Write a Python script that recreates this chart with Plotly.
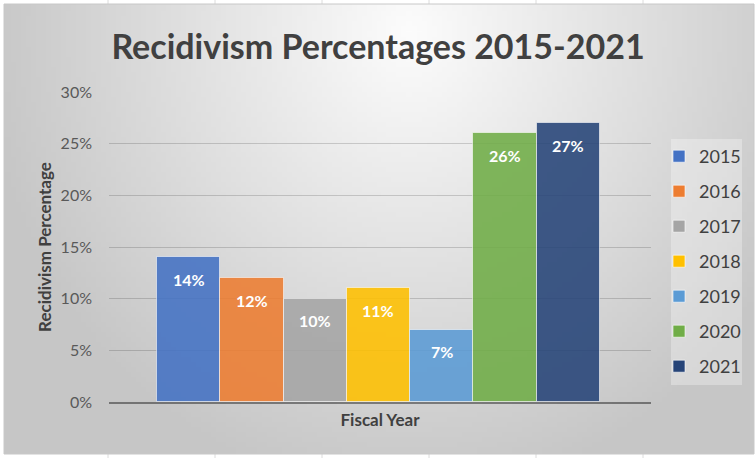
import base64
import struct
import zlib
import plotly.graph_objects as go

# ---- data ----
years = ["2015", "2016", "2017", "2018", "2019", "2020", "2021"]
rates = [0.14, 0.12, 0.10, 0.11, 0.07, 0.26, 0.27]
bar_labels = ["14%", "12%", "10%", "11%", "7%", "26%", "27%"]
colors = ["#4472C4", "#ED7D31", "#A5A5A5", "#FFC000", "#5B9BD5", "#70AD47", "#264478"]
y_ticks = [0, 0.05, 0.10, 0.15, 0.20, 0.25, 0.30]
y_tick_labels = ["0%", "5%", "10%", "15%", "20%", "25%", "30%"]

W, H = 756, 458
FONT = "Lato"


def gradient_png(w, h):
    rows = bytearray()
    for j in range(h):
        rows.append(0)
        for i in range(w):
            x = i / (w - 1) * 750 + 4
            y = j / (h - 1) * 450 + 4
            u = (x - 410) / 430
            v = (y - 30) / 470
            r = min((u * u + v * v) ** 0.5, 1.0)
            g = int(round(252 - 54 * r))
            rows += bytes((g, g, g))
    raw = zlib.compress(bytes(rows), 9)

    def chunk(t, d):
        return struct.pack(">I", len(d)) + t + d + struct.pack(">I", zlib.crc32(t + d) & 0xFFFFFFFF)

    png = (b"\x89PNG\r\n\x1a\n"
           + chunk(b"IHDR", struct.pack(">IIBBBBB", w, h, 8, 2, 0, 0, 0))
           + chunk(b"IDAT", raw)
           + chunk(b"IEND", b""))
    return "data:image/png;base64," + base64.b64encode(png).decode()


fig = go.Figure()
for yr, val, col in zip(years, rates, colors):
    fig.add_trace(go.Bar(
        x=[yr], y=[val], name=yr, legendgroup=yr,
        marker=dict(color=col, opacity=0.88,
                    line=dict(color="rgba(255,255,255,0.6)", width=1)),
        hoverinfo="skip",
    ))

for i, (val, lab) in enumerate(zip(rates, bar_labels)):
    fig.add_annotation(x=i, y=val, xref="x", yref="y", text=lab, showarrow=False,
                       yshift=-22, yanchor="middle",
                       font=dict(family=FONT, size=16, color="white", weight="bold"))

# faint spreadsheet cell borders outside the chart frame
sheet_lines = []
for cx in [108, 215, 322, 429, 536, 643]:
    for (ya, yb) in [(0, 4), (454, 458)]:
        sheet_lines.append(dict(type="line", xref="paper", yref="paper",
                                x0=cx / W, x1=cx / W, y0=1 - yb / H, y1=1 - ya / H,
                                line=dict(color="#dcdcdc", width=1), layer="below"))

fig.update_layout(
    width=W, height=H,
    margin=dict(l=0, r=0, t=0, b=0, autoexpand=False),
    paper_bgcolor="white",
    plot_bgcolor="rgba(0,0,0,0)",
    barmode="overlay", bargap=0,
    font=dict(family=FONT, size=16, color="#595959"),
    title=dict(text="<b>Recidivism Percentages 2015-2021</b>",
               x=0.5, xanchor="center", y=1 - 47 / H, yanchor="middle",
               font=dict(family=FONT, size=34, color="#404040")),
    xaxis=dict(domain=[109 / W, 651 / W], type="category", categoryarray=years,
               range=[-1.258, 7.306], showticklabels=False, showgrid=False,
               automargin=False,
               zeroline=False, showline=True, linecolor="rgba(0,0,0,0.42)", linewidth=1.5,
               title=dict(text="<b>Fiscal Year</b>", standoff=11,
                          font=dict(family=FONT, size=17, color="#404040"))),
    yaxis=dict(domain=[1 - 402 / H, 1 - 92 / H], range=[0, 0.30],
               tickvals=y_ticks, ticktext=y_tick_labels, automargin=False,
               showgrid=True, gridcolor="rgba(0,0,0,0.16)", gridwidth=1,
               zeroline=False, showline=False, ticks="", ticklabelstandoff=16,
               tickfont=dict(family=FONT, size=16, color="#595959"),
               title=dict(text="<b>Recidivism Percentage</b>", standoff=4,
                          font=dict(family=FONT, size=17, color="#404040"))),
    legend=dict(x=659 / W, y=1 - 138 / H, xanchor="left", yanchor="top",
                bgcolor="rgba(0,0,0,0)", tracegroupgap=8.6,
                font=dict(family=FONT, size=18, color="#404040"),
                itemwidth=30),
    images=[dict(source=gradient_png(150, 90), xref="paper", yref="paper",
                 x=4 / W, y=1 - 4 / H, sizex=750 / W, sizey=450 / H,
                 xanchor="left", yanchor="top", sizing="stretch", layer="below")],
    shapes=sheet_lines + [
        dict(type="rect", xref="paper", yref="paper",
             x0=4 / W, x1=754 / W, y0=1 - 454 / H, y1=1 - 4 / H,
             line=dict(color="#c8c8c8", width=1), layer="below"),
        dict(type="rect", xref="paper", yref="paper",
             x0=671 / W, x1=742 / W, y0=1 - 385 / H, y1=1 - 139 / H,
             line=dict(width=0), fillcolor="rgba(255,255,255,0.3)", layer="below")],
)

fig.write_html("out.html", config={"displayModeBar": False},
               post_script="document.body.style.margin='0';")
